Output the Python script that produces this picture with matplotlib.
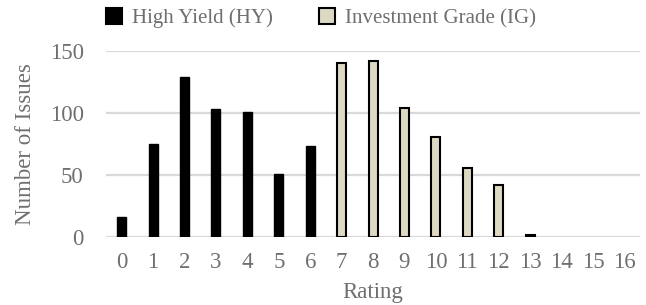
import matplotlib
matplotlib.use("Agg")
import matplotlib.pyplot as plt
from matplotlib.lines import Line2D

ratings = list(range(17))
hy_counts = [16, 75, 129, 103, 101, 51, 73, 0, 0, 0, 0, 0, 0, 0, 0, 0, 0]
ig_counts = [0, 0, 0, 0, 0, 0, 0, 140, 142, 104, 81, 56, 42, 2, 0, 0, 0]
yticks = [0, 50, 100, 150]

HY_COLOR = "#000000"
IG_COLOR = "#ddd9c3"
TXT = "#6f6f6f"
GRID = "#d9d9d9"

plt.rcParams['font.family'] = ['Liberation Serif', 'DejaVu Serif']

fig = plt.figure(figsize=(6.46, 3.05), dpi=100)
ax = fig.add_axes([0.164, 0.223, 0.827, 0.610])

w = 0.29
hy_x = [r for r, v in zip(ratings, hy_counts) if v > 0]
hy_v = [v for v in hy_counts if v > 0]
ig_x = [r for r, v in zip(ratings, ig_counts) if v > 0]
ig_v = [v for v in ig_counts if v > 0]
ax.bar(hy_x, hy_v, width=w, color=HY_COLOR, edgecolor="#000000", linewidth=1.0, zorder=3)
ax.bar(ig_x, ig_v, width=w, color=IG_COLOR, edgecolor="#000000", linewidth=1.5, zorder=3)

ax.set_xlim(-0.5, 16.5)
ax.set_ylim(0, 150)
ax.set_yticks(yticks)
ax.set_xticks(ratings)
ax.set_xticklabels([str(r) for r in ratings])
ax.yaxis.grid(True, color=GRID, linewidth=1.6, zorder=0)
ax.set_axisbelow(True)
for s in ax.spines.values():
    s.set_visible(False)
ax.tick_params(axis='both', length=0, labelsize=16.5, colors=TXT)
ax.tick_params(axis='y', pad=16)
ax.tick_params(axis='x', pad=11)
ax.set_xlabel("Rating", fontsize=16.5, color=TXT, labelpad=6)
ax.set_ylabel("Number of Issues", fontsize=16.5, color=TXT, labelpad=10)

handles = [
    Line2D([], [], marker='s', linestyle='none', markersize=11, markerfacecolor=HY_COLOR,
           markeredgecolor="#000000", markeredgewidth=1.5),
    Line2D([], [], marker='s', linestyle='none', markersize=11, markerfacecolor=IG_COLOR,
           markeredgecolor="#000000", markeredgewidth=1.5),
]
leg = fig.legend(handles, ["High Yield (HY)", "Investment Grade (IG)"], ncol=2,
                 loc='center left', bbox_to_anchor=(0.135, 0.94), frameon=False,
                 fontsize=15, handlelength=0.8, handletextpad=0.45, columnspacing=2.2)
for t in leg.get_texts():
    t.set_color(TXT)

fig.savefig("out.png", dpi=100)
